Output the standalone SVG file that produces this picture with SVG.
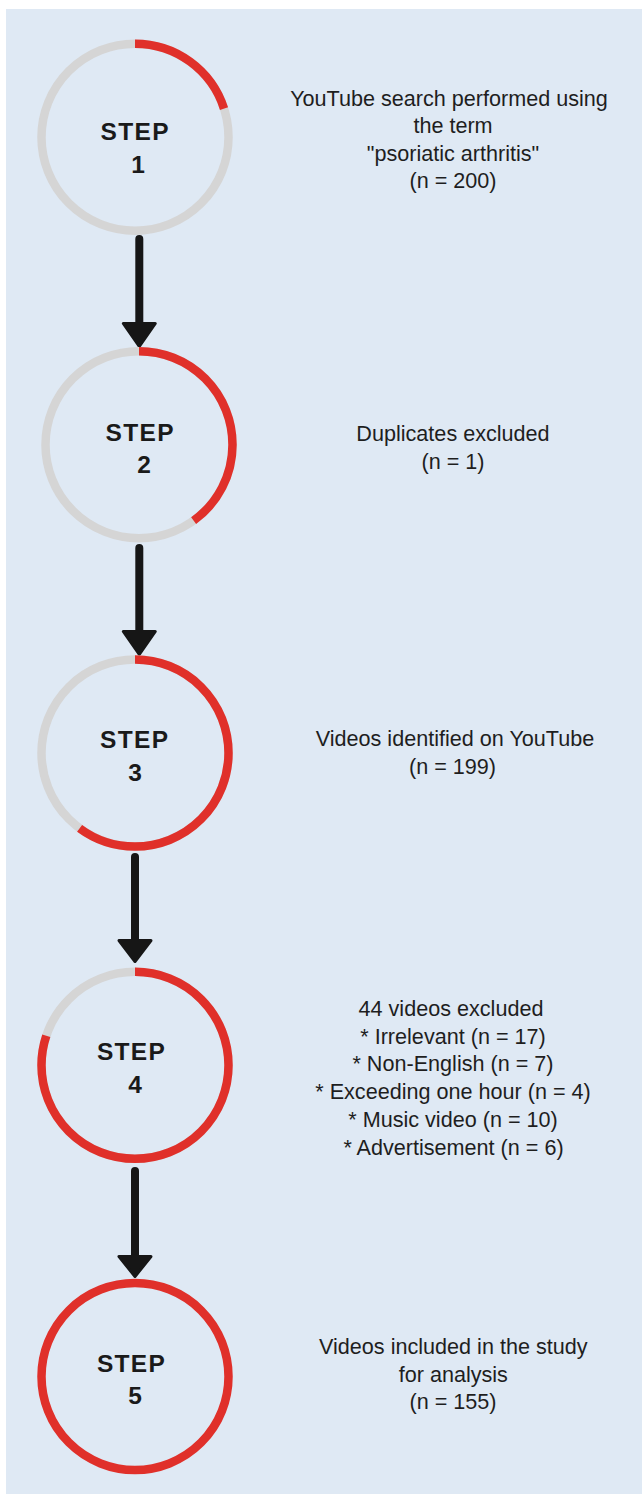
<svg xmlns="http://www.w3.org/2000/svg" width="642" height="1499" viewBox="0 0 642 1499">
<style>
.ring{fill:none;stroke:#d5d5d5;stroke-width:8.5}
.prog{fill:none;stroke:#e0302a;stroke-width:8.5}
.step{font-family:"Liberation Sans",Arial,sans-serif;font-weight:bold;font-size:24.5px;letter-spacing:1.3px;fill:#1a1a1a;text-anchor:middle}
.num{font-family:"Liberation Sans",Arial,sans-serif;font-weight:bold;font-size:24.5px;fill:#1a1a1a;text-anchor:middle}
.lbl{font-family:"Liberation Sans",Arial,sans-serif;font-size:21.6px;fill:#1e1e1e;text-anchor:middle}
.shaft{stroke:#161616;stroke-width:8;stroke-linecap:round}
.head{fill:#161616;stroke:#161616;stroke-width:3;stroke-linejoin:round}
</style>
<rect x="6" y="9" width="636" height="1485" fill="#dfe9f4"/>
<g id="connectors">
<line class="shaft" x1="139.3" y1="239" x2="139.3" y2="326"/>
<polygon class="head" points="123.3,323.5 155.3,323.5 139.3,346.5"/>
<line class="shaft" x1="139.3" y1="548" x2="139.3" y2="634"/>
<polygon class="head" points="123.3,631.5 155.3,631.5 139.3,654.5"/>
<line class="shaft" x1="135" y1="857" x2="135" y2="943"/>
<polygon class="head" points="119,940.5 151,940.5 135,961.5"/>
<line class="shaft" x1="135" y1="1171" x2="135" y2="1259"/>
<polygon class="head" points="119,1256.5 151,1256.5 135,1276.5"/>
</g>
<g id="step1">
<circle class="ring" cx="135" cy="137.2" r="93.5"/>
<circle class="prog" cx="135" cy="137.2" r="93.5" stroke-dasharray="117.5 600" transform="rotate(-90 135 137.2)"/>
<text class="step" x="135.2" y="140">STEP</text>
<text class="num" x="138" y="173">1</text>
<text class="lbl" x="449" y="106">YouTube search performed using</text>
<text class="lbl" x="453" y="133">the term</text>
<text class="lbl" x="453" y="160.5">"psoriatic arthritis"</text>
<text class="lbl" x="453" y="188">(n = 200)</text>
</g>
<g id="step2">
<circle class="ring" cx="139" cy="444.7" r="93.5"/>
<circle class="prog" cx="139" cy="444.7" r="93.5" stroke-dasharray="235 600" transform="rotate(-90 139 444.7)"/>
<text class="step" x="140.2" y="441">STEP</text>
<text class="num" x="144" y="473">2</text>
<text class="lbl" x="453" y="441">Duplicates excluded</text>
<text class="lbl" x="453" y="469">(n = 1)</text>
</g>
<g id="step3">
<circle class="ring" cx="135" cy="753" r="93.5"/>
<circle class="prog" cx="135" cy="753" r="93.5" stroke-dasharray="352.5 600" transform="rotate(-90 135 753)"/>
<text class="step" x="134.7" y="748">STEP</text>
<text class="num" x="135" y="781">3</text>
<text class="lbl" x="455" y="746">Videos identified on YouTube</text>
<text class="lbl" x="452.5" y="774">(n = 199)</text>
</g>
<g id="step4">
<circle class="ring" cx="135" cy="1065.3" r="93.5"/>
<circle class="prog" cx="135" cy="1065.3" r="93.5" stroke-dasharray="470 600" transform="rotate(-90 135 1065.3)"/>
<text class="step" x="131.5" y="1060">STEP</text>
<text class="num" x="135" y="1093">4</text>
<text class="lbl" x="451" y="1016">44 videos excluded</text>
<text class="lbl" x="453" y="1043.5">* Irrelevant (n = 17)</text>
<text class="lbl" x="453" y="1071">* Non-English (n = 7)</text>
<text class="lbl" x="453" y="1098.5">* Exceeding one hour (n = 4)</text>
<text class="lbl" x="453" y="1126.5">* Music video (n = 10)</text>
<text class="lbl" x="453.5" y="1155">* Advertisement (n = 6)</text>
</g>
<g id="step5">
<circle class="prog" cx="135" cy="1376.5" r="93.5"/>
<text class="step" x="131.5" y="1371.5">STEP</text>
<text class="num" x="135" y="1404">5</text>
<text class="lbl" x="453.3" y="1353.5">Videos included in the study</text>
<text class="lbl" x="453.3" y="1381.5">for analysis</text>
<text class="lbl" x="453" y="1408.5">(n = 155)</text>
</g>
</svg>
